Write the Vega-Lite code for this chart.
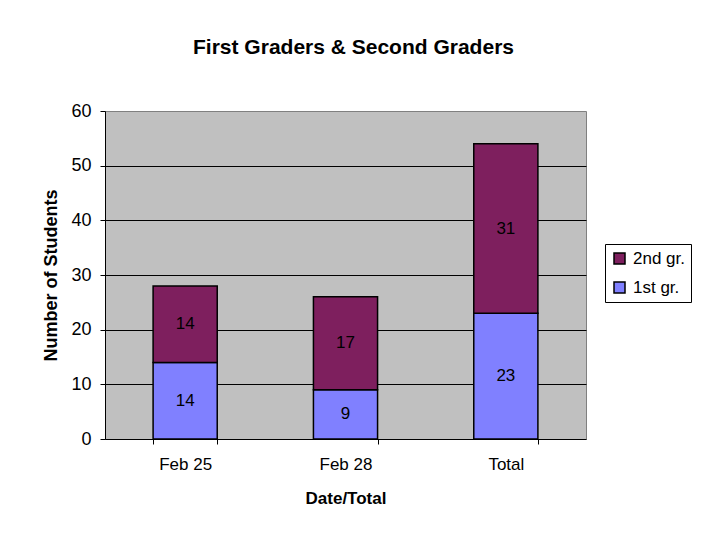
{
  "$schema": "https://vega.github.io/schema/vega-lite/v6.json",
  "width": 481,
  "height": 328,
  "autosize": "none",
  "padding": {"left": 105, "top": 111, "right": 117, "bottom": 99},
  "background": "white",
  "title": {
    "text": "First Graders & Second Graders",
    "font": "Liberation Sans",
    "fontSize": 21,
    "fontWeight": "bold",
    "color": "black",
    "anchor": "middle",
    "baseline": "alphabetic",
    "offset": 27,
    "dx": 8
  },
  "data": {
    "values": [
      {"date": "Feb 25", "grade": "1st gr.", "value": 14},
      {"date": "Feb 25", "grade": "2nd gr.", "value": 14},
      {"date": "Feb 28", "grade": "1st gr.", "value": 9},
      {"date": "Feb 28", "grade": "2nd gr.", "value": 17},
      {"date": "Total", "grade": "1st gr.", "value": 23},
      {"date": "Total", "grade": "2nd gr.", "value": 31}
    ]
  },
  "config": {
    "view": {"fill": "#C0C0C0", "stroke": "#808080", "strokeWidth": 1},
    "font": "Liberation Sans"
  },
  "encoding": {
    "x": {
      "field": "date",
      "type": "nominal",
      "sort": ["Feb 25", "Feb 28", "Total"],
      "scale": {"paddingInner": 0.6, "paddingOuter": 0.3},
      "axis": {
        "title": "Date/Total",
        "titleFont": "Liberation Sans",
        "titleFontSize": 17,
        "titleFontWeight": "bold",
        "titleColor": "black",
        "titlePadding": 18,
        "labelFont": "Liberation Sans",
        "labelFontSize": 17,
        "labelColor": "black",
        "labelAngle": 0,
        "labelPadding": 12,
        "domainColor": "black",
        "domainWidth": 1,
        "tickColor": "black",
        "tickSize": 5,
        "tickBand": "extent",
        "grid": false
      }
    }
  },
  "layer": [
    {
      "mark": {"type": "bar", "stroke": "black", "strokeWidth": 1.5},
      "encoding": {
        "y": {
          "field": "value",
          "type": "quantitative",
          "stack": "zero",
          "scale": {"domain": [0, 60], "nice": false},
          "axis": {
            "values": [0, 10, 20, 30, 40, 50, 60],
            "title": "Number of Students",
            "titleFont": "Liberation Sans",
            "titleFontSize": 18,
            "titleFontWeight": "bold",
            "titleColor": "black",
            "titlePadding": 10,
            "labelFont": "Liberation Sans",
            "labelFontSize": 18,
            "labelColor": "black",
            "labelPadding": 9,
            "domainColor": "black",
            "domainWidth": 1,
            "tickColor": "black",
            "tickSize": 5,
            "grid": true,
            "gridColor": {"condition": {"test": "datum.value === 60 || datum.value === 0", "value": "transparent"}, "value": "black"},
            "gridWidth": 1,
            "gridOpacity": 1
          }
        },
        "color": {
          "field": "grade",
          "type": "nominal",
          "scale": {"domain": ["2nd gr.", "1st gr."], "range": ["#7E1F5E", "#8080FF"]},
          "legend": {
            "title": null,
            "orient": "none",
            "legendX": 500,
            "legendY": 133,
            "fillColor": "white",
            "strokeColor": "black",
            "padding": 6,
            "symbolType": "square",
            "symbolSize": 121,
            "symbolStrokeColor": "black",
            "symbolStrokeWidth": 1.5,
            "symbolOpacity": 1,
            "labelFont": "Liberation Sans",
            "labelFontSize": 17,
            "labelColor": "black",
            "rowPadding": 11,
            "labelOffset": 5
          }
        },
        "order": {"field": "grade", "sort": "ascending"}
      }
    },
    {
      "transform": [
        {"stack": "value", "groupby": ["date"], "sort": [{"field": "grade", "order": "ascending"}], "as": ["v0", "v1"]},
        {"calculate": "(datum.v0 + datum.v1) / 2", "as": "mid"}
      ],
      "mark": {"type": "text", "font": "Liberation Sans", "fontSize": 17, "color": "black", "baseline": "middle", "align": "center"},
      "encoding": {
        "y": {"field": "mid", "type": "quantitative"},
        "text": {"field": "value", "type": "quantitative"}
      }
    }
  ]
}
